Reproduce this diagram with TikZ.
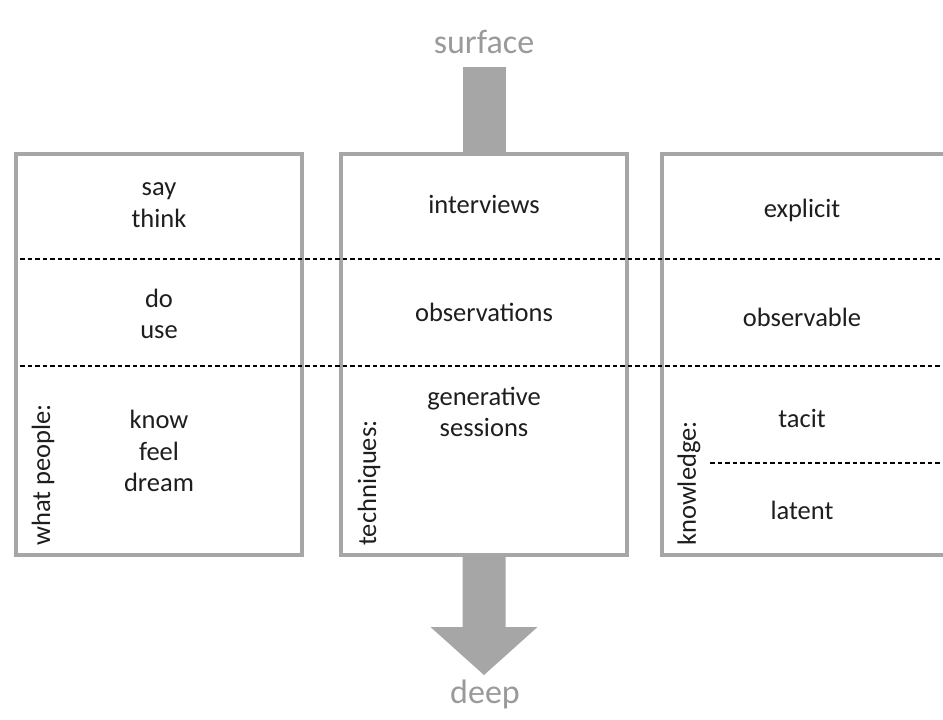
\documentclass[tikz,border=0pt]{standalone}
\usepackage{fontspec}
\setmainfont{Carlito}
\definecolor{panelgray}{HTML}{A6A6A6}
\definecolor{flowgray}{HTML}{A6A6A6}
\definecolor{ink}{HTML}{1E1E1E}
\definecolor{depthgray}{HTML}{9A9A9A}
\begin{document}
\begin{tikzpicture}[x=1pt,y=-1pt,
  panel/.style={draw=panelgray, line width=4pt, minimum width=286pt,
    minimum height=401pt, inner sep=0pt, outer sep=0pt},
  word/.style={font=\fontsize{26.5}{31.5}\selectfont, text=ink,
    align=center, inner sep=0pt},
  side/.style={word, rotate=90, anchor=west},
  level/.style={draw=black, line width=2pt, dash pattern=on 4.5pt off 3pt},
  flow/.style={fill=flowgray, draw=none},
  depth/.style={word, font=\fontsize{34}{40}\selectfont, text=depthgray}]
\clip (0,0) rectangle (943,720);
\fill[white] (0,0) rectangle (943,720);

% panel positions
\coordinate (c1) at (159,354.5);
\coordinate (c2) at (484,354.5);
\coordinate (c3) at (805,354.5);

% depth arrow: shaft above the middle panel, head below it
\node[depth] (surface) at (484,42) {surface};
\node[depth] (deep) at (485,694) {deep};
\path (c2) ++(0,-200.5) coordinate (tn) ++(0,401) coordinate (ts);
\fill[flow] (tn) ++(-21.5,0) rectangle ++(43,-87);
\fill[flow] (ts) ++(-21.5,0) -- ++(0,72) -- ++(-32,0) -- ++(53.5,48)
  -- ++(53.5,-48) -- ++(-32,0) -- ++(0,-72) -- cycle;

% the three panels
\node[panel] (people) at (c1) {};
\node[panel] (tech) at (c2) {};
\node[panel] (know) at (c3) {};

% level separators
\draw[level] (20,258.5) -- (943,258.5);
\draw[level] (20,365.5) -- (943,365.5);
\draw[level] (710,463) -- (943,463);

% what people
\node[word] (say) at (159,205) {say\\think};
\node[word] (do) at (159,314) {do\\use};
\node[word] (feel) at (159,451) {know\\feel\\dream};
\node[side] (whatpeople) at (43,546) {what people:};

% techniques
\node[word] (interviews) at (484,204) {interviews};
\node[word] (observations) at (484,312) {observations};
\node[word] (generative) at (484,412) {generative\\sessions};
\node[side] (techniques) at (369,546) {techniques:};

% knowledge
\node[word] (explicit) at (802,210) {explicit};
\node[word] (observable) at (802,317) {observable};
\node[word] (tacit) at (802,418) {tacit};
\node[word] (latent) at (802,510) {latent};
\node[side] (knowledge) at (689,546) {knowledge:};
\end{tikzpicture}
\end{document}
